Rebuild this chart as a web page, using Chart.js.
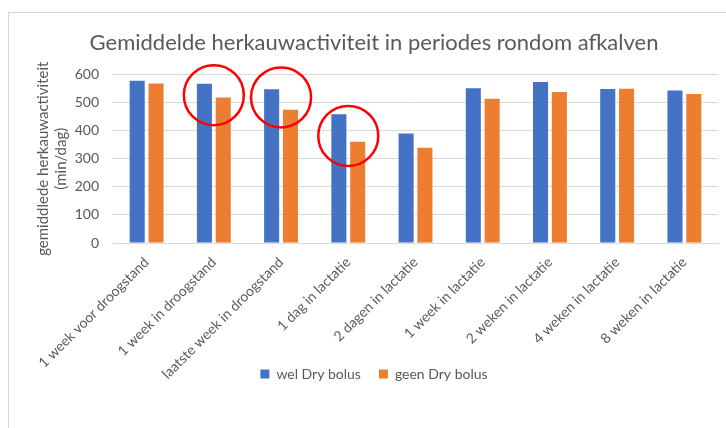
<!DOCTYPE html>
<html lang="nl">
<head>
    <meta charset="UTF-8">
    <title>Gemiddelde herkauwactiviteit</title>
    <script src="https://cdn.jsdelivr.net/npm/chart.js"></script>
    <style>
        html, body { margin: 0; padding: 0; background: #fff; overflow: hidden; }
        body { width: 726px; height: 428px; position: relative; }
        /* kader van de grafiek, loopt rechts en onder buiten beeld */
        .kader { position: absolute; left: 8px; top: 12px; width: 730px; height: 442px;
                 border: 1px solid #d9d9d9; }
        .kader canvas { position: absolute; left: 0; top: 0; }
    </style>
</head>
<body>
    <div class="kader">
        <canvas id="herkauwChart" width="728" height="440"></canvas>
    </div>

    <script>
        // periodes rond het afkalven
        const periodes = [
            '1 week voor droogstand',
            '1 week in droogstand',
            'laatste week in droogstand',
            '1 dag in lactatie',
            '2 dagen in lactatie',
            '1 week in lactatie',
            '2 weken in lactatie',
            '4 weken in lactatie',
            '8 weken in lactatie'
        ];
        // min/dag
        const welDryBolus = [577, 567, 547, 458, 390, 551, 573, 548, 543];
        const geenDryBolus = [568, 518, 474, 360, 339, 513, 537, 549, 530];
        const yTicks = [0, 100, 200, 300, 400, 500, 600];

        // rode cirkels: welke periode en rond welke waarde
        const cirkelPeriodes = [1, 2, 3];
        const cirkelWaarden = [526, 518, 381];

        const grijs = '#595959';
        Chart.defaults.font.family = 'Lato, "Open Sans", sans-serif';
        Chart.defaults.color = grijs;

        const cirkelPlugin = {
            id: 'cirkels',
            afterLayout(chart) {
                // x-labels lopen net als in Excel door tot in de legendaband
                chart.scales.x.bottom = chart.height;
            },
            afterDatasetsDraw(chart) {
                const ctx = chart.ctx;
                const xs = chart.scales.x, ys = chart.scales.y;
                ctx.save();
                ctx.strokeStyle = '#ff0000';
                ctx.lineWidth = 2.5;
                cirkelPeriodes.forEach((p, i) => {
                    ctx.beginPath();
                    ctx.arc(xs.getPixelForValue(p), ys.getPixelForValue(cirkelWaarden[i]), 30, 0, Math.PI * 2);
                    ctx.stroke();
                });
                ctx.restore();
            }
        };

        const ctx = document.getElementById('herkauwChart').getContext('2d');
        new Chart(ctx, {
            type: 'bar',
            data: {
                labels: periodes,
                datasets: [{
                    label: 'wel Dry bolus',
                    data: welDryBolus,
                    backgroundColor: '#4472c4'
                }, {
                    label: 'geen Dry bolus',
                    data: geenDryBolus,
                    backgroundColor: '#ed7d31'
                }]
            },
            options: {
                responsive: false,
                animation: false,
                categoryPercentage: 0.56,
                barPercentage: 0.8,
                layout: { padding: { left: 21, right: 19, top: 11, bottom: 62 } },
                plugins: {
                    title: {
                        display: true,
                        text: 'Gemiddelde herkauwactiviteit in periodes rondom afkalven',
                        color: grijs,
                        font: { size: 22, weight: 'normal' },
                        padding: { top: 6, bottom: 18 }
                    },
                    legend: {
                        position: 'bottom',
                        labels: {
                            boxWidth: 9,
                            boxHeight: 9,
                            padding: 18,
                            font: { size: 14 }
                        }
                    },
                    tooltip: { enabled: false }
                },
                scales: {
                    x: {
                        grid: { display: false },
                        border: { color: '#d9d9d9' },
                        ticks: {
                            minRotation: 45,
                            maxRotation: 45,
                            font: { size: 14 },
                            color: grijs
                        },
                        afterFit(scale) { scale.height = 106; }
                    },
                    y: {
                        min: 0,
                        max: 600,
                        afterBuildTicks(scale) {
                            scale.ticks = yTicks.map(v => ({ value: v }));
                        },
                        grid: { color: '#d9d9d9', drawTicks: false },
                        border: { display: false },
                        ticks: { font: { size: 14 }, color: grijs, padding: 14 },
                        title: {
                            display: true,
                            text: ['gemiddlede herkauwactiviteit', '(min/dag)'],
                            font: { size: 15 },
                            color: grijs,
                            padding: { bottom: 4 }
                        },
                        afterFit(scale) { scale.width = 83; }
                    }
                }
            },
            plugins: [cirkelPlugin]
        });
    </script>
</body>
</html>
